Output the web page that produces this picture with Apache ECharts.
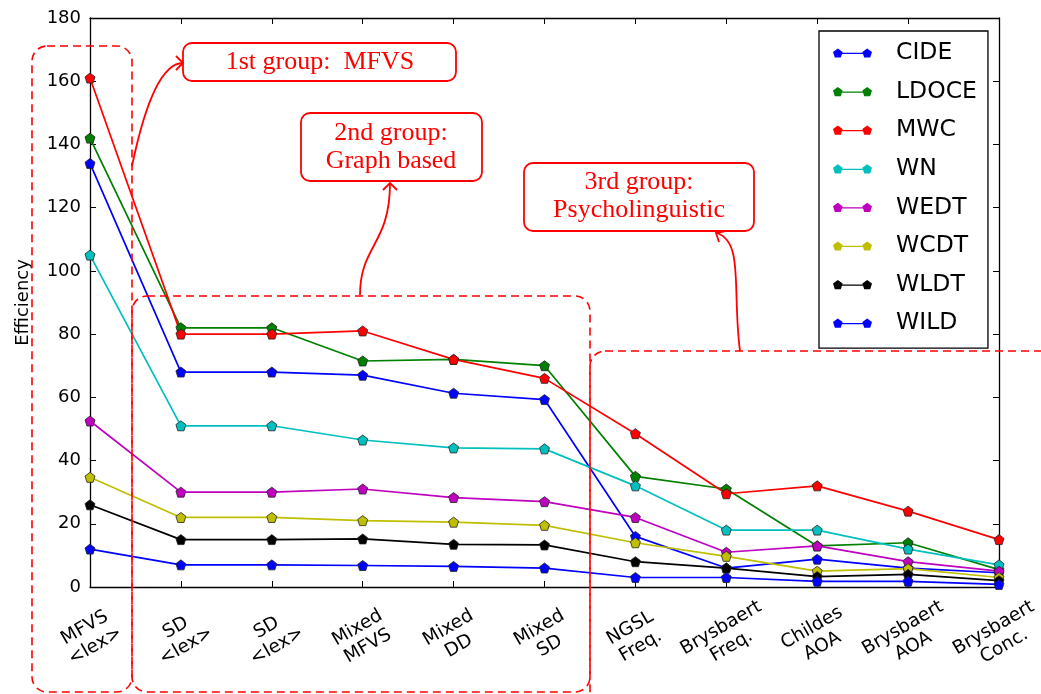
<!DOCTYPE html>
<html>
<head>
<meta charset="utf-8">
<script src="https://cdn.jsdelivr.net/npm/echarts@6/dist/echarts.min.js"></script>
<style>
  html, body { margin: 0; padding: 0; background: #fff; }
  #main { width: 1041px; height: 694px; }
</style>
</head>
<body>
<div id="main"></div>
<script>
var categories = ['MFVS\n<lex>', 'SD\n<lex>', 'SD\n<lex>', 'Mixed\nMFVS', 'Mixed\nDD', 'Mixed\nSD',
  'NGSL\nFreq.', 'Brysbaert\nFreq.', 'Childes\nAOA', 'Brysbaert\nAOA', 'Brysbaert\nConc.'];
var yTicks = [0, 20, 40, 60, 80, 100, 120, 140, 160, 180];

var seriesNames = ['CIDE', 'LDOCE', 'MWC', 'WN', 'WEDT', 'WCDT', 'WLDT', 'WILD'];
var cide  = [134, 68, 68, 67, 61.3, 59.3, 16, 6, 8.8, 6, 4.5];
var ldoce = [142, 82, 82, 71.5, 72, 70, 35, 31, 13, 14, 5.5];
var mwc   = [161, 80, 80, 81, 72, 66, 48.5, 29.5, 32, 24, 15];
var wn    = [105, 51, 51, 46.5, 44, 43.7, 32, 18, 18, 12, 7];
var wedt  = [52.5, 30, 30, 31, 28.3, 27, 22, 11, 13, 8, 5];
var wcdt  = [34.7, 22, 22, 21, 20.5, 19.5, 14, 9.7, 5, 5.8, 3];
var wldt  = [26, 15, 15, 15.2, 13.5, 13.3, 8, 6, 3.3, 4, 2];
var wild  = [12, 7, 7, 6.8, 6.5, 6, 3, 3, 1.8, 1.8, 0.8];
var seriesValues = [cide, ldoce, mwc, wn, wedt, wcdt, wldt, wild];
var seriesColors = ['#0000ff', '#008000', '#ff0000', '#00bfbf', '#bf00bf', '#bfbf00', '#000000', '#0000ff'];

var pentagon = 'path://M5 0 L9.76 3.45 L7.94 9.05 L2.06 9.05 L0.24 3.45 Z';
// line with a pentagon at each end, like the matplotlib legend
var legendIcon = 'path://M5 0 L9.76 3.45 L7.94 9.05 L2.06 9.05 L0.24 3.45 Z ' +
  'M34 0 L38.76 3.45 L36.94 9.05 L31.06 9.05 L29.24 3.45 Z ' +
  'M8 4.4 L31 4.4 L31 5.6 L8 5.6 Z';

var myChart = echarts.init(document.getElementById('main'));

var series = seriesNames.map(function (name, i) {
  return {
    name: name,
    type: 'line',
    data: seriesValues[i],
    symbol: pentagon,
    symbolSize: 10,
    showAllSymbol: true,
    color: seriesColors[i],
    lineStyle: { width: 1.7, color: seriesColors[i] },
    itemStyle: { color: seriesColors[i], borderColor: '#222', borderWidth: 0.8 },
    emphasis: { disabled: true },
    animation: false
  };
});

var red = '#ff0000';
function dashedBox(x, y, w, h) {
  return {
    type: 'rect', z: 100, silent: true,
    shape: { x: x, y: y, width: w, height: h, r: 15 },
    style: { fill: 'none', stroke: red, lineWidth: 1.6, lineDash: [8, 5] }
  };
}
function labelBox(x, y, w, h, text, cx, cy) {
  return [{
    type: 'rect', z: 100, silent: true,
    shape: { x: x, y: y, width: w, height: h, r: 9 },
    style: { fill: '#fff', stroke: red, lineWidth: 1.8 }
  }, {
    type: 'text', z: 101, silent: true,
    x: cx, y: cy,
    style: {
      text: text, fill: red, font: '26px "Liberation Serif"',
      align: 'center', verticalAlign: 'middle', lineHeight: 28
    }
  }];
}
function arrow(p) {
  return [{
    type: 'bezierCurve', z: 100, silent: true,
    shape: { x1: p[0], y1: p[1], cpx1: p[2], cpy1: p[3], cpx2: p[4], cpy2: p[5], x2: p[6], y2: p[7] },
    style: { fill: 'none', stroke: red, lineWidth: 1.8 }
  }, {
    type: 'polyline', z: 100, silent: true,
    shape: { points: p[8] },
    style: { fill: 'none', stroke: red, lineWidth: 1.8 }
  }];
}

var graphics = [
  dashedBox(32, 46, 100, 646),
  dashedBox(132, 296, 458, 396),
  dashedBox(590, 351, 520, 370)
]
  .concat(labelBox(183, 43, 273, 38, '1st group:  MFVS', 320, 62))
  .concat(labelBox(301, 113, 181, 68, '2nd group:\nGraph based', 391, 147))
  .concat(labelBox(524, 163, 230, 68, '3rd group:\nPsycholinguistic', 639, 196))
  .concat(arrow([132, 166, 142, 118, 158, 63, 183, 63, [[176, 56], [183, 63], [176, 70]]]))
  .concat(arrow([360, 295, 360, 245, 390, 245, 390, 183, [[383, 190], [390, 183], [397, 190]]]))
  .concat(arrow([740, 351, 732, 290, 744, 242, 717, 233, [[719, 242], [716, 233], [725, 231]]]));

var option = {
  backgroundColor: '#fff',
  animation: false,
  grid: { left: 90, right: 42, top: 18, bottom: 107, containLabel: false, outerBoundsMode: 'none' },
  legend: {
    orient: 'vertical',
    left: 819,
    top: 31,
    padding: [9, 11, 12, 14],
    itemWidth: 39,
    itemHeight: 10,
    itemGap: 12.6,
    icon: legendIcon,
    itemStyle: { borderWidth: 0 },
    borderColor: '#000',
    borderWidth: 1.3,
    borderRadius: 0,
    backgroundColor: '#fff',
    textStyle: {
      fontFamily: 'DejaVu Sans', fontSize: 23.5, color: '#000',
      lineHeight: 26, padding: [0, 0, 0, 19]
    },
    data: seriesNames,
    selectedMode: false,
    z: 20
  },
  xAxis: [{
    type: 'category',
    data: categories,
    boundaryGap: false,
    axisLine: { onZero: false, lineStyle: { color: '#000', width: 1.3 } },
    axisTick: { inside: true, length: 6, alignWithLabel: true, lineStyle: { color: '#000' } },
    axisLabel: {
      interval: 0, rotate: 30, align: 'center', verticalAlign: 'middle',
      margin: 50, fontFamily: 'DejaVu Sans', fontSize: 18.5, lineHeight: 21, color: '#000'
    },
    splitLine: { show: false }
  }, {
    type: 'category',
    data: categories,
    position: 'top',
    boundaryGap: false,
    axisLine: { onZero: false, lineStyle: { color: '#000', width: 1.3 } },
    axisTick: { inside: true, length: 6, lineStyle: { color: '#000' } },
    axisLabel: { show: false },
    splitLine: { show: false }
  }],
  yAxis: [{
    type: 'value',
    min: yTicks[0],
    max: yTicks[yTicks.length - 1],
    interval: 20,
    name: 'Efficiency',
    nameLocation: 'middle',
    nameGap: 58,
    nameTextStyle: { fontFamily: 'DejaVu Sans', fontSize: 18, color: '#000' },
    axisLine: { show: true, onZero: false, lineStyle: { color: '#000', width: 1.3 } },
    axisTick: { show: true, inside: true, length: 6, lineStyle: { color: '#000' } },
    axisLabel: { margin: 9, fontFamily: 'DejaVu Sans', fontSize: 18, color: '#000' },
    splitLine: { show: false }
  }, {
    type: 'value',
    position: 'right',
    min: yTicks[0],
    max: yTicks[yTicks.length - 1],
    interval: 20,
    axisLine: { show: true, onZero: false, lineStyle: { color: '#000', width: 1.3 } },
    axisTick: { show: true, inside: true, length: 6, lineStyle: { color: '#000' } },
    axisLabel: { show: false },
    splitLine: { show: false }
  }],
  series: series,
  graphic: graphics
};

myChart.setOption(option);
window.onresize = function () {
  myChart.resize();
};
</script>
</body>
</html>
